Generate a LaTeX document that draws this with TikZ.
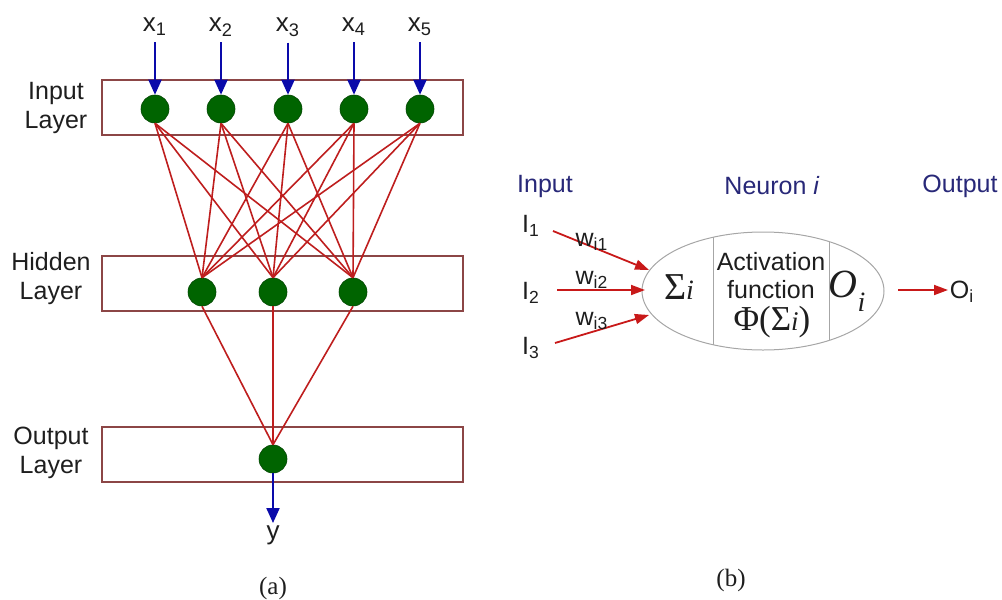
\documentclass[tikz,border=0pt]{standalone}
\usepackage{fontspec}
\setmainfont{Liberation Sans}
\newfontfamily\serifff{Liberation Serif}
\usetikzlibrary{arrows.meta,shapes.geometric}
\definecolor{netred}{RGB}{190,30,30}
\definecolor{arrred}{RGB}{200,25,25}
\definecolor{netblue}{RGB}{10,10,170}
\definecolor{nodegreen}{RGB}{0,100,0}
\definecolor{boxbrown}{RGB}{140,70,70}
\definecolor{navytext}{RGB}{40,40,120}
\definecolor{txt}{RGB}{30,30,30}
\begin{document}
\begin{tikzpicture}[x=0.5pt,y=-0.5pt,
  every node/.style={text=txt,font=\fontsize{12.5}{14.5}\selectfont},
  neuron/.style={circle,fill=nodegreen,draw=nodegreen!70!black,line width=0.3pt,minimum size=14pt,inner sep=0pt},
  layerbox/.style={draw=boxbrown,line width=0.7pt},
  conn/.style={draw=netred,line width=0.8pt},
  bluearrow/.style={draw=netblue,line width=1pt,-{Triangle[length=7.5pt,width=6.5pt]}},
  redarrow/.style={draw=arrred,line width=0.9pt,-{Triangle[length=7pt,width=5pt]}},
  layerlabel/.style={align=center,inner sep=0pt},
  headtext/.style={text=navytext,font=\fontsize{12.5}{14}\selectfont}
]
\useasboundingbox (0,0) rectangle (1002,600);

% layer boxes
\draw[layerbox] (102,80) rectangle (463,135);
\draw[layerbox] (102,256) rectangle (463,311);
\draw[layerbox] (102,427) rectangle (463,482);

% layer labels
\node[layerlabel] (lin) at (56,108) {Input\\Layer};
\node[layerlabel] (lhid) at (51,279) {Hidden\\Layer};
\node[layerlabel] (lout) at (51,453) {Output\\Layer};

% input labels and neurons
\foreach \i/\x in {1/155,2/221,3/288,4/354,5/420}{
  \node[inner sep=1pt,font=\fontsize{13}{15}\selectfont] (x\i) at (\x,27) {x\textsubscript{\i}};
  \node[neuron] (in\i) at (\x,109) {};
}
% hidden neurons
\node[neuron] (h1) at (202,292) {};
\node[neuron] (h2) at (273,292) {};
\node[neuron] (h3) at (353,292) {};
% output neuron
\node[neuron] (o1) at (273,459) {};
\node[inner sep=1pt,font=\fontsize{13}{15}\selectfont] (y) at (273,535) {y};

% connections
\foreach \i in {1,...,5}{
  \foreach \j in {1,2,3}{
    \draw[conn] (in\i.south) -- (h\j.north);
  }
  \draw[bluearrow,shorten <=2pt] (x\i.south) -- (in\i.north);
}
\foreach \j in {1,2,3}{
  \draw[conn] (h\j.south) -- (o1.north);
}
\draw[bluearrow] (o1.south) -- (y.north);

\node[font=\serifff\fontsize{12.5}{14}\selectfont] (capa) at (273,588) {(a)};

% ---------- (b) single neuron ----------
\node[headtext] (hin) at (545,186) {Input};
\node[headtext] (hneu) at (772,186) {Neuron \textit{i}};
\node[headtext] (hout) at (960,186) {Output};

\node[ellipse,draw=gray!70,line width=0.5pt,minimum width=121pt,minimum height=59pt,inner sep=0pt] (cell) at (763,291) {};
\draw[gray!70,line width=0.5pt] (713,237.3) -- (713,344.7);
\draw[gray!70,line width=0.5pt] (829,241.6) -- (829,340.4);

\node[font=\serifff\fontsize{19}{20}\selectfont] (sig) at (679,287) {Σ{\fontsize{14}{15}\selectfont\itshape i}};
\node[align=center,inner sep=0pt,font=\fontsize{12.5}{14}\selectfont] (act) at (771,276) {Activation\\function};
\node[font=\serifff\fontsize{17.5}{18}\selectfont] (phi) at (772,322) {Φ(Σ{\fontsize{13.5}{14}\selectfont\itshape i})};
\node[font=\serifff\itshape\fontsize{20}{24}\selectfont] (oi) at (847,291) {O\raisebox{-0.35em}{\fontsize{14}{16}\selectfont i}};

\node (I1) at (531,226) {I\textsubscript{1}};
\node (I2) at (531,293) {I\textsubscript{2}};
\node (I3) at (531,348) {I\textsubscript{3}};

\coordinate (a1s) at (553,231);
\coordinate (a1e) at (649,270);
\coordinate (a2s) at (557,290);
\coordinate (a2e) at (645,290);
\coordinate (a3s) at (555,343);
\coordinate (a3e) at (649,315);
\draw[redarrow] (a1s) -- (a1e);
\draw[redarrow] (a2s) -- (a2e);
\draw[redarrow] (a3s) -- (a3e);

\node (w1) at (592,242) {w\textsubscript{i1}};
\node (w2) at (592,280) {w\textsubscript{i2}};
\node (w3) at (592,321) {w\textsubscript{i3}};

\coordinate (os) at (898,290);
\coordinate (oe) at (948,290);
\node[inner sep=1pt] (Oout) at (962,292) {O\textsubscript{i}};
\draw[redarrow] (os) -- (oe);

\node[font=\serifff\fontsize{12.5}{14}\selectfont] (capb) at (731,580) {(b)};
\end{tikzpicture}
\end{document}
